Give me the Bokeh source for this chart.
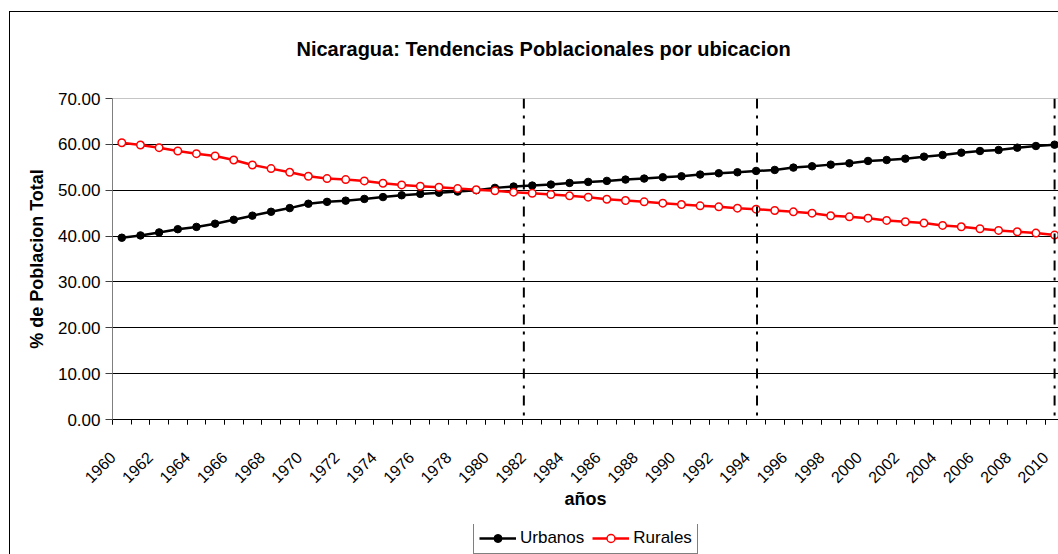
from math import pi
from bokeh.plotting import figure
from bokeh.layouts import column
from bokeh.models import (Range1d, FixedTicker, PrintfTickFormatter, Span, Legend,
                          LegendItem, CustomJSTickFormatter)
from bokeh.embed import file_html
from bokeh.resources import INLINE

# ---------------- data ----------------
title_text = "Nicaragua: Tendencias Poblacionales por ubicacion"
x_title = "años"
y_title = "% de Poblacion Total"

years = list(range(1960, 2011))
urbanos = [39.64, 40.14, 40.80, 41.50, 42.00, 42.70, 43.55, 44.45, 45.30, 46.10,
           47.05, 47.46, 47.72, 48.10, 48.50, 48.90, 49.20, 49.45, 49.70, 50.00,
           50.51, 50.80, 51.01, 51.23, 51.59, 51.81, 52.03, 52.32, 52.54, 52.83,
           53.04, 53.41, 53.70, 53.91, 54.20, 54.42, 54.93, 55.22, 55.58, 55.87,
           56.38, 56.59, 56.88, 57.32, 57.68, 58.19, 58.55, 58.77, 59.28, 59.64,
           59.93]
rurales = [60.36, 59.86, 59.28, 58.55, 57.97, 57.46, 56.59, 55.51, 54.71, 53.91,
           53.04, 52.54, 52.32, 52.03, 51.52, 51.16, 50.87, 50.65, 50.36, 50.10,
           49.86, 49.57, 49.35, 49.06, 48.77, 48.48, 48.04, 47.75, 47.46, 47.17,
           46.88, 46.59, 46.38, 46.09, 45.87, 45.58, 45.29, 45.00, 44.42, 44.20,
           43.91, 43.41, 43.12, 42.83, 42.32, 42.03, 41.59, 41.23, 40.94, 40.65,
           40.22]
series_names = ["Urbanos", "Rurales"]
label_years = list(range(1960, 2011, 2))
y_ticks = [0, 10, 20, 30, 40, 50, 60, 70]
marker_years = [1981.55, 1994.05, 2010.0]   # vertical dash-dot lines

FONT = "Liberation Sans"
RED = "#ff0000"

# ---------------- main chart ----------------
p = figure(width=1058, height=524, output_backend="svg", toolbar_location=None,
           x_range=Range1d(1959.5, 2010.21), y_range=Range1d(0, 70),
           min_border_left=112, min_border_right=0, min_border_top=97,
           min_border_bottom=105)
p.background_fill_color = "white"
p.border_fill_alpha = 0
p.outline_line_color = None

p.title.text = title_text
p.title.text_font = FONT
p.title.text_font_size = "20px"
p.title.text_font_style = "bold"
p.title.text_color = "black"
p.title.align = "left"
p.title.offset = 184
p.title.vertical_align = "top"
p.title.standoff = 74

# x axis: category boundaries carry the tick marks, labels every 2 years
xa = p.xaxis[0]
xa.ticker = FixedTicker(ticks=[y - 0.5 for y in label_years],
                        minor_ticks=[y - 0.5 for y in years])
xa.formatter = CustomJSTickFormatter(code="return (tick + 0.5).toFixed(0);")
xa.axis_line_color = "black"
xa.major_tick_out = 5
xa.major_tick_in = 0
xa.major_tick_line_color = "black"
xa.minor_tick_out = 5
xa.minor_tick_in = 0
xa.minor_tick_line_color = "black"
xa.major_label_orientation = pi / 4
xa.major_label_text_font = FONT
xa.major_label_text_font_size = "16px"
xa.major_label_text_color = "black"
xa.major_label_standoff = 30
xa.axis_label = x_title
xa.axis_label_text_font = FONT
xa.axis_label_text_font_size = "18px"
xa.axis_label_text_font_style = "bold"
xa.axis_label_text_color = "black"
xa.axis_label_standoff = -2

ya = p.yaxis[0]
ya.ticker = FixedTicker(ticks=y_ticks, minor_ticks=[])
ya.formatter = PrintfTickFormatter(format="%.2f")
ya.axis_line_color = "#7f7f7f"
ya.major_tick_out = 7
ya.major_tick_in = 0
ya.major_tick_line_color = "#404040"
ya.major_label_text_font = FONT
ya.major_label_text_font_size = "17px"
ya.major_label_text_color = "black"
ya.major_label_standoff = 5
ya.axis_label = y_title
ya.axis_label_text_font = FONT
ya.axis_label_text_font_size = "18px"
ya.axis_label_text_font_style = "bold"
ya.axis_label_text_color = "black"
ya.axis_label_standoff = 8

p.xgrid.visible = False
p.ygrid.ticker = FixedTicker(ticks=y_ticks[1:-1])
p.ygrid.grid_line_color = "black"
p.ygrid.grid_line_width = 1

p.add_layout(Span(location=y_ticks[-1], dimension="width",
                  line_color="#8c8c8c", line_width=1))


def draw_series(fig):
    r1 = fig.line(years, urbanos, line_color="black", line_width=2.5)
    r2 = fig.scatter(years, urbanos, size=7.5, fill_color="black", line_color="black")
    r3 = fig.line(years, rurales, line_color=RED, line_width=2.5)
    r4 = fig.scatter(years, rurales, size=7.5, fill_color="white", line_color=RED,
                     line_width=1.5)
    return [r1, r2], [r3, r4]


draw_series(p)

for yr in marker_years:
    p.add_layout(Span(location=yr, dimension="height", line_color="black",
                      line_width=2, line_dash="10 7 3 7"))

# ---------------- legend strip ----------------
pl = figure(width=1058, height=30, output_backend="svg", toolbar_location=None,
            x_range=Range1d(0, 1), y_range=Range1d(0, 1),
            x_axis_location=None, y_axis_location=None,
            min_border_left=0, min_border_right=0, min_border_top=0,
            min_border_bottom=0)
pl.grid.visible = False
pl.outline_line_color = None
pl.background_fill_alpha = 0
pl.border_fill_alpha = 0
ru, rr = draw_series(pl)   # same series, outside this strip's view

legend = Legend(items=[LegendItem(label=series_names[0], renderers=ru),
                       LegendItem(label=series_names[1], renderers=rr)],
                orientation="horizontal", location=(361, 0),
                glyph_width=37, glyph_height=20, label_height=20,
                label_standoff=4, spacing=8, padding=5, margin=0,
                label_text_font=FONT, label_text_font_size="17px",
                label_text_color="black",
                border_line_color="black", border_line_width=1,
                background_fill_color="white", background_fill_alpha=1)
pl.add_layout(legend)

layout = column(p, pl, spacing=0,
                styles={"background": "linear-gradient(#000,#000) 9px 11px / 1px 100% no-repeat, "
                                      "linear-gradient(#000,#000) 9px 11px / 100% 1px no-repeat, #fff"})

open("out.html", "w").write(file_html(layout, INLINE))
